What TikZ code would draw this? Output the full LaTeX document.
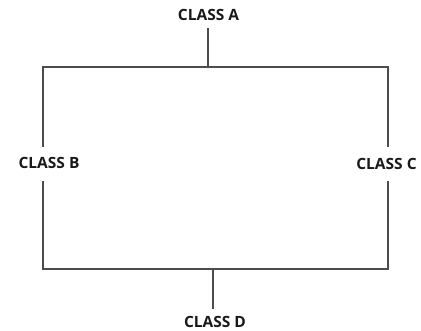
\documentclass[tikz,border=0pt]{standalone}
\usepackage{fontspec}
\setmainfont{Open Sans}
\begin{document}
\begin{tikzpicture}[x=1pt,y=1pt,
  cls/.style={font=\bfseries\fontsize{15.5}{16}\selectfont, inner sep=0pt, text=black!90},
  wire/.style={line width=1.3pt, draw=black!70}]
\useasboundingbox (0,0) rectangle (421,331);
\node[cls] (A) at (208.5,316) {CLASS A};
\node[cls] (B) at (49,168) {CLASS B};
\node[cls] (C) at (386.5,167) {CLASS C};
\node[cls] (D) at (215,9) {CLASS D};
\coordinate (atop) at (208,303);
\coordinate (ajoin) at (208,264);
\coordinate (tl) at (43,264);
\coordinate (tr) at (388,264);
\coordinate (bl) at (43,62);
\coordinate (br) at (388,62);
\coordinate (djoin) at (213,62);
\coordinate (dbot) at (213,22);
\coordinate (bup) at (43,184);
\coordinate (bdn) at (43,150);
\coordinate (cup) at (388,184);
\coordinate (cdn) at (388,150);
\draw[wire] (atop) -- (ajoin);
\draw[wire] (bup) -- (tl) -- (tr) -- (cup);
\draw[wire] (bdn) -- (bl) -- (br) -- (cdn);
\draw[wire] (djoin) -- (dbot);
\end{tikzpicture}
\end{document}
